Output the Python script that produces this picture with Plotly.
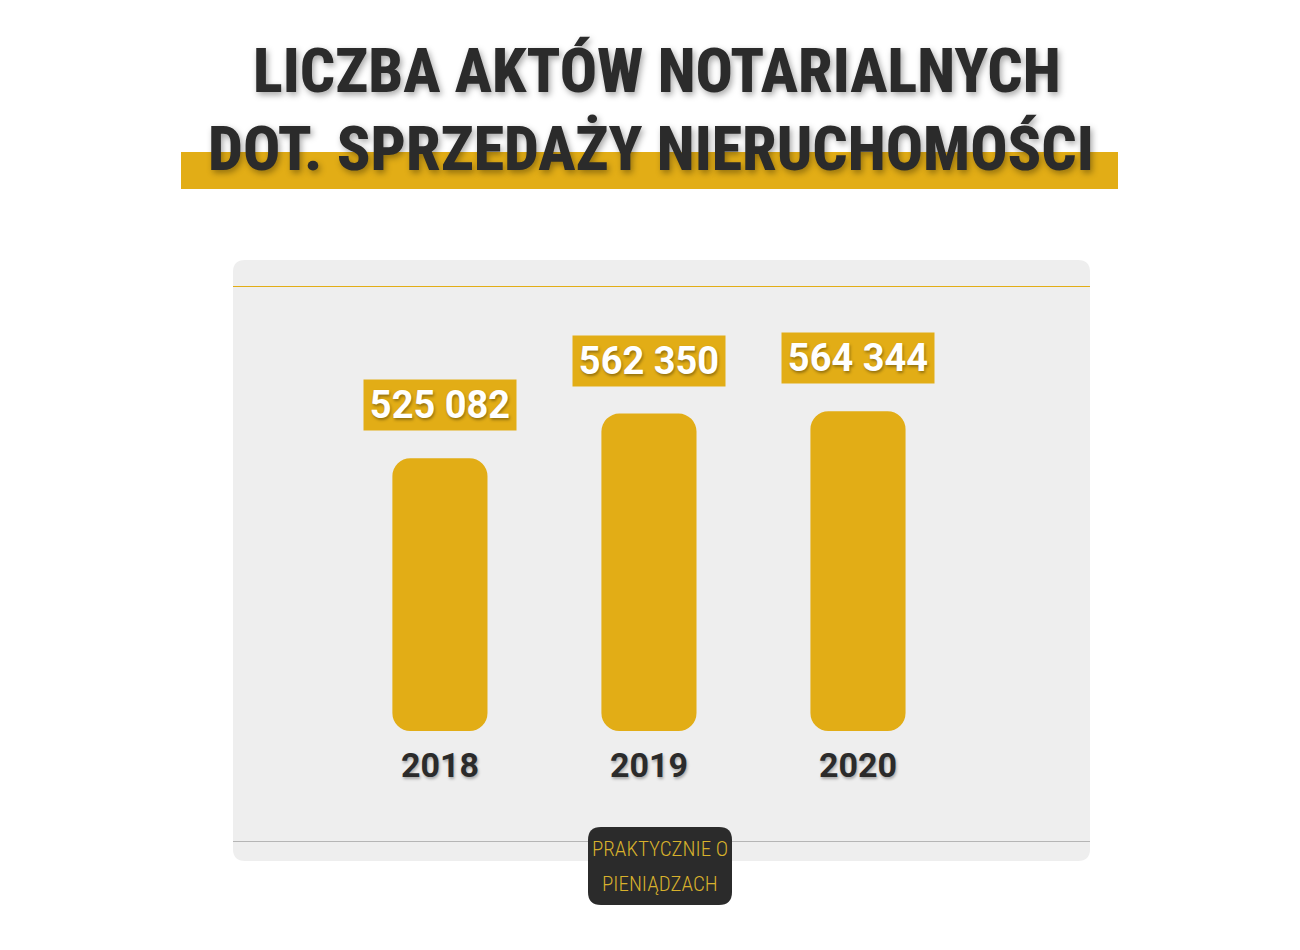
import plotly.graph_objects as go

# ---- data ----
years = ["2018", "2019", "2020"]
values = [525082, 562350, 564344]
title_lines = ["LICZBA AKTÓW NOTARIALNYCH", "DOT. SPRZEDAŻY NIERUCHOMOŚCI"]
logo_lines = ["PRAKTYCZNIE O", "PIENIĄDZACH"]

# ---- style ----
W, H = 1300, 950
L, R, T, B = 233, 1090, 286, 731  # plot area in px
Y0, Y1 = 297000, 669000
YEL = "#e2ad16"
DARK = "#2b2b2b"
PANEL = "#eeeeee"


def px2x(px):
    return (px - L) / (R - L)


def px2y(py):
    return (B - py) / (B - T)


def rrect(x0, y0, x1, y1, r):
    ax0, ax1 = px2x(x0), px2x(x1)
    ay0, ay1 = px2y(y1), px2y(y0)
    dx = r / (R - L)
    dy = r / (B - T)
    return (f"M {ax0+dx},{ay0} L {ax1-dx},{ay0} Q {ax1},{ay0} {ax1},{ay0+dy} "
            f"L {ax1},{ay1-dy} Q {ax1},{ay1} {ax1-dx},{ay1} L {ax0+dx},{ay1} "
            f"Q {ax0},{ay1} {ax0},{ay1-dy} L {ax0},{ay0+dy} Q {ax0},{ay0} {ax0+dx},{ay0} Z")


fig = go.Figure()
fig.add_trace(go.Bar(x=years, y=[v - Y0 for v in values], base=[Y0] * len(values),
                     marker=dict(color=YEL, cornerradius=18, line=dict(width=0)),
                     width=0.455, hoverinfo="skip"))

shapes = [
    dict(type="path", xref="paper", yref="paper", path=rrect(233, 260, 1090, 861, 12),
         fillcolor=PANEL, line=dict(width=0), layer="below"),
    dict(type="line", xref="paper", yref="paper", x0=0, x1=1, y0=px2y(286.5), y1=px2y(286.5),
         line=dict(color=YEL, width=1), layer="below"),
    dict(type="line", xref="paper", yref="paper", x0=0, x1=1, y0=px2y(841.5), y1=px2y(841.5),
         line=dict(color="#b5b5b5", width=1), layer="below"),
    dict(type="rect", xref="paper", yref="paper", x0=px2x(181), x1=px2x(1118),
         y0=px2y(189), y1=px2y(152), fillcolor=YEL, line=dict(width=0), layer="below"),
    dict(type="path", xref="paper", yref="paper", path=rrect(588, 827, 732, 905, 13),
         fillcolor=DARK, line=dict(width=0), layer="above"),
]

annotations = []
title_font = dict(family="Roboto Condensed, Roboto", size=62,
                  color=DARK, weight=800, shadow="2px 3px 6px rgba(0,0,0,0.35)")
annotations.append(dict(text=title_lines[0], xref="paper", yref="paper", x=px2x(657),
                        y=px2y(71), xanchor="center", yanchor="middle", showarrow=False,
                        font=title_font))
annotations.append(dict(text=title_lines[1], xref="paper", yref="paper", x=px2x(651),
                        y=px2y(149), xanchor="center", yanchor="middle", showarrow=False,
                        font=title_font))

for i, v in enumerate(values):
    annotations.append(dict(
        text=f"{v:,}".replace(",", " "), x=i, y=v, xref="x", yref="y",
        xanchor="center", yanchor="bottom", yshift=27, showarrow=False,
        bgcolor=YEL, width=152, height=50, borderpad=0,
        font=dict(family="Roboto", size=38, color="white", weight=700,
                  shadow="1px 2px 3px rgba(0,0,0,0.35)")))

logo_font = dict(family="Roboto Condensed, Roboto", size=21,
                 color="#d8b12c", weight=300)
annotations.append(dict(text=logo_lines[0], xref="paper", yref="paper", x=px2x(660),
                        y=px2y(849), xanchor="center", yanchor="middle", showarrow=False,
                        font=logo_font))
annotations.append(dict(text=logo_lines[1], xref="paper", yref="paper", x=px2x(660),
                        y=px2y(884), xanchor="center", yanchor="middle", showarrow=False,
                        font=logo_font))

fig.update_layout(
    width=W, height=H, autosize=False,
    margin=dict(l=L, r=W - R, t=T, b=H - B, pad=0),
    paper_bgcolor="white", plot_bgcolor="rgba(0,0,0,0)",
    showlegend=False,
    shapes=shapes, annotations=annotations,
    xaxis=dict(type="category", range=[-0.99, 3.11], showgrid=False, zeroline=False,
               showline=False, ticks="", ticklabelstandoff=11,
               tickfont=dict(family="Roboto", size=34, color=DARK, weight=700,
                             shadow="1px 2px 3px rgba(0,0,0,0.3)"),
               fixedrange=True),
    yaxis=dict(range=[Y0, Y1], visible=False, showgrid=False, zeroline=False, fixedrange=True),
)

fig.write_html("out.html")
